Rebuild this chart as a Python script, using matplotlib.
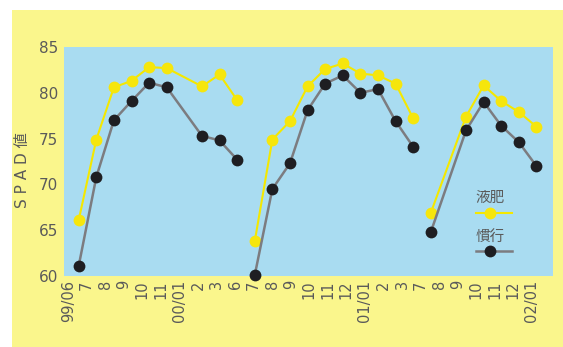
import numpy as np
import matplotlib
matplotlib.use("Agg")
import matplotlib.pyplot as plt

plt.rcParams['font.family'] = ['DejaVu Sans', 'Noto Sans CJK JP']

# tick labels along the bottom
tick_labels = ['99/06', '7', '8', '9', '10', '11', '00/01', '2', '3', '6',
               '7', '8', '9', '10', '11', '12', '01/01', '2', '3',
               '7', '8', '9', '10', '11', '12', '02/01']

# sampling slots of the three seasons
seg1_x = [0, 1, 2, 3, 4, 5, 7, 8, 9]
seg2_x = [10, 11, 12, 13, 14, 15, 16, 17, 18, 19]
seg3_x = [20, 22, 23, 24, 25, 26]

# 液肥
liquid_1 = [66.1, 74.9, 80.6, 81.3, 82.8, 82.7, 80.7, 82.0, 79.2]
liquid_2 = [63.8, 74.9, 76.9, 80.7, 82.6, 83.2, 82.1, 81.9, 81.0, 77.2]
liquid_3 = [66.9, 77.4, 80.8, 79.1, 77.9, 76.3]

# 慣行
conv_1 = [61.1, 70.8, 77.0, 79.1, 81.1, 80.6, 75.3, 74.8, 72.7]
conv_2 = [60.1, 69.5, 72.3, 78.1, 81.0, 81.9, 80.0, 80.4, 76.9, 74.1]
conv_3 = [64.8, 75.9, 79.0, 76.4, 74.6, 72.0]

bg_yellow = '#FAF68C'
plot_blue = '#A9DCF1'
dot_yellow = '#F6E60C'
line_yellow = '#F4E800'
dot_black = '#1E1E22'
line_gray = '#7C7C80'
text_gray = '#5A5A5A'

fig = plt.figure(figsize=(5.63, 3.47), dpi=100)
fig.patch.set_facecolor('white')
bg = plt.Rectangle((12 / 563, 0), 1, 1 - 10 / 347, transform=fig.transFigure,
                   facecolor=bg_yellow, edgecolor='none', zorder=-10)
fig.patches.append(bg)

ax = fig.add_axes([64 / 563, 1 - 276 / 347, (553 - 64) / 563, (276 - 47) / 347])
ax.set_zorder(1)
ax.set_facecolor(plot_blue)

for xs, ys in [(seg1_x, liquid_1), (seg2_x, liquid_2), (seg3_x, liquid_3)]:
    ax.plot(xs, ys, color=line_yellow, lw=1.5, zorder=2, clip_on=False)
    ax.plot(xs, ys, 'o', color=dot_yellow, ms=8.5, mec='none', zorder=3, clip_on=False)

for xs, ys in [(seg1_x, conv_1), (seg2_x, conv_2), (seg3_x, conv_3)]:
    ax.plot(xs, ys, color=line_gray, lw=1.8, zorder=4, clip_on=False)
    ax.plot(xs, ys, 'o', color=dot_black, ms=8.5, mec='none', zorder=5, clip_on=False)

ax.set_xlim(-0.835, 26.94)
ax.set_ylim(60, 85)
ax.set_yticks([60, 65, 70, 75, 80, 85])
ax.set_xticks(np.linspace(-0.6, 25.74, len(tick_labels)))
ax.set_xticklabels(tick_labels, rotation=90, fontsize=10.5, color=text_gray)
ax.tick_params(axis='y', labelsize=11, labelcolor=text_gray, length=0, pad=4)
ax.tick_params(axis='x', length=0, pad=3)
for s in ax.spines.values():
    s.set_visible(False)

fig.text(22 / 563, 1 - 170 / 347, 'S P A D 値', rotation=90, ha='center', va='center',
         fontsize=11, color=text_gray)

# hand-made legend in the lower right corner
ax.text(0.871, 0.341, '液肥', transform=ax.transAxes, ha='center', va='center',
        fontsize=10.5, color=text_gray, family=['Noto Sans CJK JP'])
ax.plot([0.8425, 0.916], [0.277, 0.277], transform=ax.transAxes, color=line_yellow, lw=1.5)
ax.plot([0.871], [0.277], 'o', transform=ax.transAxes, color=dot_yellow, ms=8.5, mec='none')
ax.text(0.871, 0.172, '慣行', transform=ax.transAxes, ha='center', va='center',
        fontsize=10.5, color=text_gray, family=['Noto Sans CJK JP'])
ax.plot([0.8425, 0.916], [0.111, 0.111], transform=ax.transAxes, color=line_gray, lw=1.8)
ax.plot([0.871], [0.111], 'o', transform=ax.transAxes, color=dot_black, ms=8.5, mec='none')

fig.savefig('out.png', dpi=100, facecolor=fig.get_facecolor())
